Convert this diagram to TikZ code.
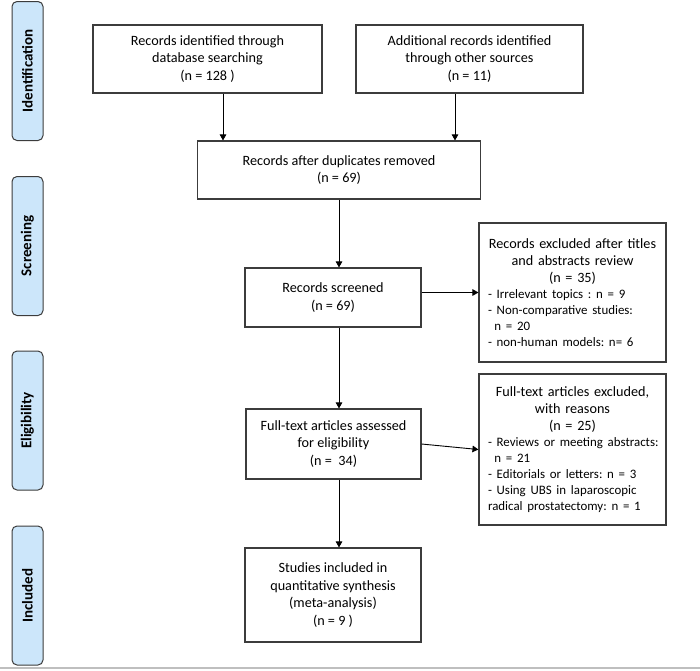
\documentclass[tikz,border=0pt]{standalone}
\usepackage{fontspec}
\setmainfont{Carlito}
\usetikzlibrary{arrows.meta}
\definecolor{phaseblue}{RGB}{204,230,250}
\definecolor{boxline}{RGB}{60,60,60}
\newcommand{\listfont}{\fontsize{12.9}{16}\selectfont\leftskip=3pt\relax}
\newcommand{\listsetup}{\frenchspacing\hyphenpenalty=10000\relax}
\begin{document}
\begin{tikzpicture}[x=1pt,y=-1pt]
\tikzset{box/.style={draw=boxline, line width=1.1pt, inner sep=0pt, align=center, font=\fontsize{14.2}{17.6}\selectfont},
  listbox/.style={draw=boxline, line width=1.1pt, text width=175pt, inner xsep=6pt, inner ysep=0pt, align=left, font=\fontsize{14.2}{17}\selectfont\listsetup},
  sidebox/.style={draw=boxline, fill=phaseblue, rounded corners=5pt, line width=1pt, minimum width=139pt, minimum height=31pt, inner sep=0pt, rotate=90, font=\fontsize{15}{18}\selectfont\bfseries},
  arr/.style={-{Triangle[length=6pt,width=6.5pt]}, line width=0.9pt}}
\useasboundingbox (0,0) rectangle (700,670);
\node[sidebox] (P1) at (27.5,71) {Identification};
\node[sidebox] (P2) at (27.5,246) {Screening};
\node[sidebox] (P3) at (27.5,420.5) {Eligibility};
\node[sidebox] (P4) at (27.5,595.5) {Included};
\node[box, minimum width=229pt, minimum height=68pt] (R1) at (207.5,59) {Records identified through\\database searching\\(n = 128 )};
\node[box, minimum width=227pt, minimum height=68pt] (R2) at (469.5,59) {Additional records identified\\through other sources\\(n = 11)};
\node[box, minimum width=283pt, minimum height=58pt] (R3) at (339,170) {Records after duplicates removed\\(n = 69)};
\node[box, minimum width=176pt, minimum height=59pt] (R4) at (333,297.5) {Records screened\\(n = 69)};
\node[listbox, minimum height=139pt] (R5) at (572.5,292.5) {{\centering Records excluded after titles\\and abstracts review\\(n = 35)\par}
{\listfont - Irrelevant topics : n = 9\\
- Non-comparative studies:\\
\hspace*{0.5em}n = 20\\
- non-human models: n= 6\par}};
\node[box, minimum width=175pt, minimum height=70pt] (R6) at (333.5,444) {Full-text articles assessed\\for eligibility\\(n =\ \ 34)};
\node[listbox, minimum height=151pt] (R7) at (572.5,449.5) {{\centering Full-text articles excluded,\\with reasons\\(n = 25)\par}
{\listfont - Reviews or meeting abstracts:\\
\hspace*{0.5em}n = 21\\
- Editorials or letters: n = 3\\
- Using UBS in laparoscopic\\
radical prostatectomy: n = 1\par}};
\node[box, minimum width=176pt, minimum height=94pt] (R8) at (333,595) {Studies included in\\quantitative synthesis\\(meta-analysis)\\(n = 9 )};
\draw[arr] ([xshift=15.5pt]R1.south) -- ([xshift=15.5pt]R1.south |- R3.north);
\draw[arr] ([xshift=-14.5pt]R2.south) -- ([xshift=-14.5pt]R2.south |- R3.north);
\draw[arr] (R3.south) -- (R3.south |- R4.north);
\draw[arr] (R4.east |- R5.west) -- (R5.west);
\draw[arr] (R3.south |- R4.south) -- (R3.south |- R6.north);
\draw[arr] (R6.east) -- (R7.west);
\draw[arr] (R3.south |- R6.south) -- (R3.south |- R8.north);
\draw[black!25, line width=1.2pt] (0,668) -- (700,668);
\end{tikzpicture}
\end{document}
